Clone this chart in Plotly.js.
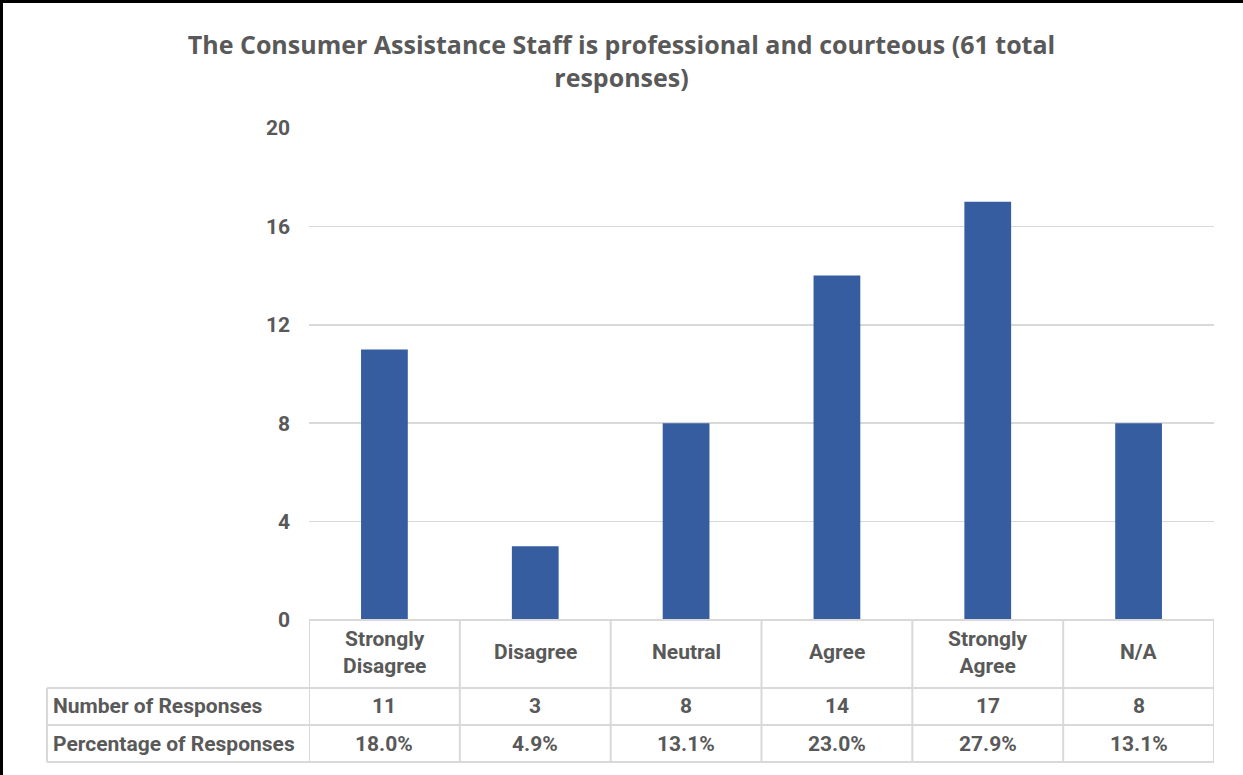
<!DOCTYPE html>
<html>
<head>
<meta charset="utf-8">
<script src="https://cdn.plot.ly/plotly-3.0.1.min.js"></script>
<style>html,body{margin:0;padding:0;background:#fff;}#chart{width:1243px;height:775px;}</style>
</head>
<body>
<div id="chart"></div>
<script>
const categories = ["Strongly Disagree", "Disagree", "Neutral", "Agree", "Strongly Agree", "N/A"];
const categoryLabels = ["Strongly<br>Disagree", "Disagree", "Neutral", "Agree", "Strongly<br>Agree", "N/A"];
const responses = [11, 3, 8, 14, 17, 8];
const percentages = ["18.0%", "4.9%", "13.1%", "23.0%", "27.9%", "13.1%"];
const rowLabels = ["Number of Responses", "Percentage of Responses"];
const yTicks = [0, 4, 8, 12, 16, 20];
const titleText = "The Consumer Assistance Staff is professional and courteous (61 total<br>responses)";

// layout geometry (pixels)
const W = 1243, H = 775;
const mL = 309, mR = 29, mT = 128, mB = 155;
const pw = W - mL - mR, ph = H - mT - mB;
const px = x => (x - mL) / pw;           // pixel x -> paper
const py = y => (H - mB - y) / ph;        // pixel y -> paper

const txtColor = "#595959";
const gridColor = "#d9d9d9";
const tableFont = {family: "Roboto, sans-serif", size: 21, color: txtColor, weight: "bold"};

const n = categories.length;
const rowTops = [620, 688, 725, 762];
const shapes = [];
const lineStyle = {color: gridColor, width: 2};
// header row (category names)
shapes.push({type: "line", xref: "x", yref: "paper", x0: -0.5, x1: n - 0.5, y0: py(rowTops[0]), y1: py(rowTops[0]), line: lineStyle});
// data rows horizontal lines
for (let r = 1; r < rowTops.length; r++) {
  shapes.push({type: "line", xref: "paper", yref: "paper", x0: px(47), x1: 1, y0: py(rowTops[r]), y1: py(rowTops[r]), line: lineStyle});
}
// vertical lines at category boundaries
for (let i = 0; i <= n; i++) {
  shapes.push({type: "line", xref: "x", yref: "paper", x0: i - 0.5, x1: i - 0.5, y0: py(rowTops[0]), y1: py(rowTops[3]), line: lineStyle});
}
// left edge of row labels
shapes.push({type: "line", xref: "paper", yref: "paper", x0: px(47), x1: px(47), y0: py(rowTops[1]), y1: py(rowTops[3]), line: lineStyle});
// outer black frame (top and left)
shapes.push({type: "line", xref: "paper", yref: "paper", x0: px(0), x1: px(W), y0: py(1.5), y1: py(1.5), line: {color: "#000", width: 3}});
shapes.push({type: "line", xref: "paper", yref: "paper", x0: px(1.5), x1: px(1.5), y0: py(0), y1: py(H), line: {color: "#000", width: 3}});

const annotations = [];
const rowCenters = [652, 706, 744];
categories.forEach((c, i) => {
  annotations.push({xref: "x", yref: "paper", x: i, y: py(rowCenters[0]), text: categoryLabels[i], showarrow: false, xanchor: "center", yanchor: "middle", font: tableFont, align: "center"});
  annotations.push({xref: "x", yref: "paper", x: i, y: py(rowCenters[1]), text: String(responses[i]), showarrow: false, xanchor: "center", yanchor: "middle", font: tableFont});
  annotations.push({xref: "x", yref: "paper", x: i, y: py(rowCenters[2]), text: percentages[i], showarrow: false, xanchor: "center", yanchor: "middle", font: tableFont});
});
rowLabels.forEach((t, r) => {
  annotations.push({xref: "paper", yref: "paper", x: px(51), y: py(rowCenters[r + 1]), text: t, showarrow: false, xanchor: "left", yanchor: "middle", font: tableFont});
});

const trace = {
  type: "bar",
  x: categories,
  y: responses,
  marker: {color: "#365d9f"},
  hoverinfo: "x+y"
};

const layout = {
  width: W, height: H,
  margin: {l: mL, r: mR, t: mT, b: mB, pad: 0},
  paper_bgcolor: "#fff",
  plot_bgcolor: "#fff",
  showlegend: false,
  bargap: 0.69,
  title: {
    text: titleText,
    x: 0.5, xref: "container", xanchor: "center",
    y: 1 - 54 / H, yref: "container", yanchor: "middle",
    font: {family: "Open Sans, Lato, sans-serif", size: 25, color: txtColor, weight: "bold"}
  },
  xaxis: {
    type: "category",
    range: [-0.5, n - 0.5],
    showticklabels: false,
    showgrid: false,
    zeroline: false,
    showline: false,
    ticks: ""
  },
  yaxis: {
    range: [0, 20],
    tickvals: yTicks,
    ticktext: yTicks.map(String),
    showgrid: true,
    gridcolor: gridColor,
    gridwidth: 1.5,
    zeroline: false,
    showline: false,
    ticks: "",
    ticklabelstandoff: 18,
    tickfont: tableFont
  },
  shapes: shapes,
  annotations: annotations
};

Plotly.newPlot("chart", [trace], layout, {displayModeBar: false, staticPlot: true});
</script>
</body>
</html>
